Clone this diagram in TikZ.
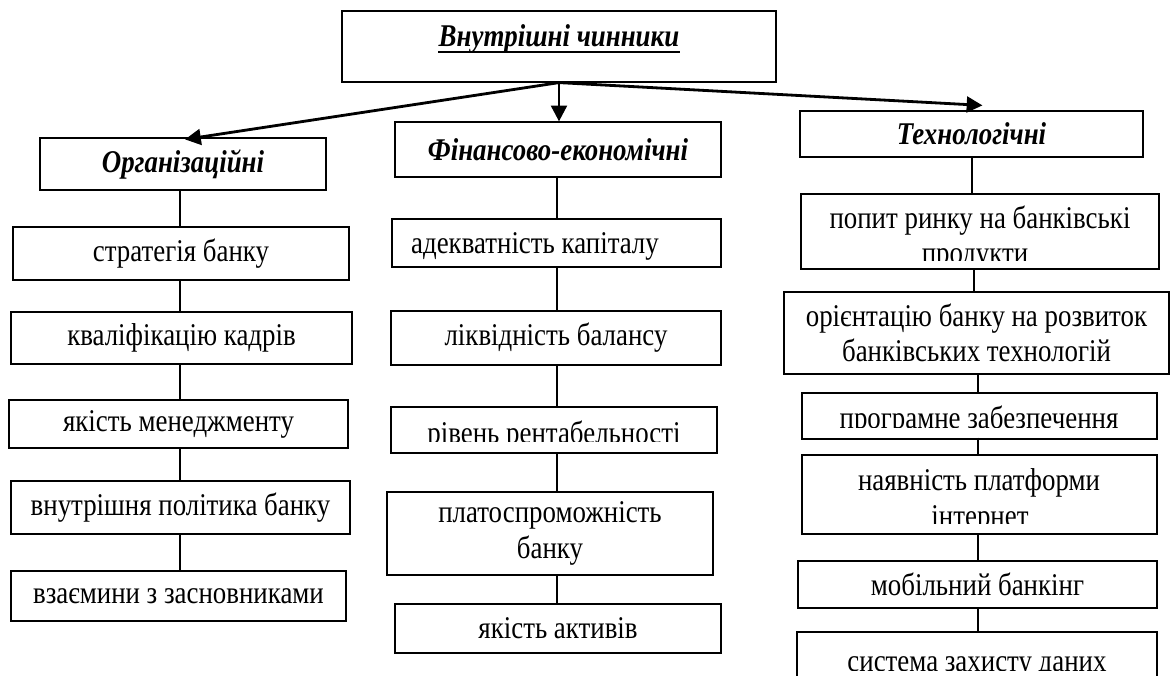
\documentclass[tikz,border=0pt]{standalone}
\usepackage{fontspec}
\setmainfont[FakeStretch=0.85]{Liberation Serif}
\usetikzlibrary{arrows.meta}
\tikzset{
  bx/.style={draw, line width=0.7pt, inner sep=0pt, align=center,
    font=\fontsize{18}{20}\selectfont},
  tx/.style={inner sep=0pt, align=center, font=\fontsize{18}{20}\selectfont},
  hdfont/.style={font=\fontsize{18}{20}\selectfont\bfseries\itshape},
  ln/.style={line width=0.7pt},
  arr/.style={line width=1.6pt, -{Triangle[length=9pt,width=9pt]}},
}
\newcommand\mkbox[6]{\node[bx, minimum width={(#4-#2)*0.02cm},
  minimum height={(#5-#3)*0.02cm}] (#1) at ({(#2+#4)/2},{(#3+#5)/2}) {#6};}
\begin{document}
\begin{tikzpicture}[x=0.02cm,y=-0.02cm]
\fill[white] (0,0) rectangle (1171,676);
\clip (0,0) rectangle (1171,676);

% top
\mkbox{top}{342}{11}{776}{82}{}
\node[tx, hdfont, anchor=base] (ttl) at (559,47) {Внутрішні чинники};
\draw[line width=1.1pt] ([yshift=-2.6pt]ttl.base west) -- ([yshift=-2.6pt]ttl.base east);

% heads
\mkbox{org}{40}{138}{326}{190}{\bfseries\itshape Організаційні}
\mkbox{fin}{395}{122}{721}{177}{\bfseries\itshape Фінансово-економічні}
\mkbox{tech}{800}{111}{1143}{157}{\bfseries\itshape Технологічні}

% arrows
\draw[arr] (top.south) -- ([shift={(2,2)}]org.north);
\draw[arr] (top.south) -- (top.south |- fin.north);
\draw[arr] (top.south) -- ([shift={(11,-5)}]tech.north);

% left column
\mkbox{l1}{13}{227}{349}{280}{стратегія банку}
\mkbox{l2}{11}{312}{352}{364}{кваліфікацію кадрів}
\mkbox{l3}{9}{400}{348}{448}{якість менеджменту}
\mkbox{l4}{11}{481}{350}{534}{внутрішня політика банку}
\mkbox{l5}{11}{571}{346}{621}{взаємини з засновниками}
\coordinate (cL) at (180,0);
\draw[ln] (org.south -| cL) -- (l1.north -| cL);
\draw[ln] (l1.south -| cL) -- (l2.north -| cL);
\draw[ln] (l2.south -| cL) -- (l3.north -| cL);
\draw[ln] (l3.south -| cL) -- (l4.north -| cL);
\draw[ln] (l4.south -| cL) -- (l5.north -| cL);

% middle column
\mkbox{m1}{392}{219}{721}{267}{}
\node[tx, anchor=base] (m1t) at (535,253) {адекватність капіталу};
\mkbox{m2}{391}{311}{721}{365}{ліквідність балансу}
\mkbox{m3}{391}{407}{717}{453}{}
\begin{scope}
  \clip (391,407) rectangle (717,441);
  \node[tx, anchor=base] (m3t) at (554,443) {рівень рентабельності};
\end{scope}
\mkbox{m4}{387}{492}{713}{575}{платоспроможність\\банку}
\mkbox{m5}{395}{604}{721}{653}{якість активів}
\coordinate (cM) at (557,0);
\draw[ln] (fin.south -| cM) -- (m1.north -| cM);
\draw[ln] (m1.south -| cM) -- (m2.north -| cM);
\draw[ln] (m2.south -| cM) -- (m3.north -| cM);
\draw[ln] (m3.south -| cM) -- (m4.north -| cM);
\draw[ln] (m4.south -| cM) -- (m5.north -| cM);

% right column
\mkbox{r1}{801}{194}{1159}{269}{}
\begin{scope}
  \clip (801,194) rectangle (1159,260);
  \node[tx, anchor=base] (r1a) at (980,228) {попит ринку на банківські};
  \node[tx, anchor=base] (r1b) at (975,263) {продукти};
\end{scope}
\mkbox{r2}{784}{292}{1169}{374}{орієнтацію банку на розвиток\\банківських технологій}
\mkbox{r3}{802}{393}{1157}{439}{}
\begin{scope}
  \clip (802,393) rectangle (1157,427);
  \node[tx, anchor=base] (r3t) at (979,428) {програмне забезпечення};
\end{scope}
\mkbox{r4}{802}{455}{1157}{534}{}
\begin{scope}
  \clip (802,455) rectangle (1157,523);
  \node[tx, anchor=base] (r4a) at (979,490) {наявність платформи};
  \node[tx, anchor=base] (r4b) at (980,526) {інтернет};
\end{scope}
\mkbox{r5}{798}{561}{1157}{608}{мобільний банкінг}
\mkbox{r6}{797}{632}{1157}{700}{}
\begin{scope}
  \clip (797,632) rectangle (1157,670);
  \node[tx, anchor=base] (r6t) at (977,671) {система захисту даних};
\end{scope}
\coordinate (cR0) at (972,0);
\coordinate (cR1) at (974,0);
\coordinate (cR2) at (978,0);
\draw[ln] (tech.south -| cR0) -- (r1.north -| cR0);
\draw[ln] (r1.south -| cR1) -- (r2.north -| cR1);
\draw[ln] (r2.south -| cR2) -- (r3.north -| cR2);
\draw[ln] ([yshift=0.04cm]r3.south -| cR2) -- (r4.north -| cR2);
\draw[ln] (r4.south -| cR2) -- (r5.north -| cR2);
\draw[ln] (r5.south -| cR2) -- (r6.north -| cR2);
\end{tikzpicture}
\end{document}
